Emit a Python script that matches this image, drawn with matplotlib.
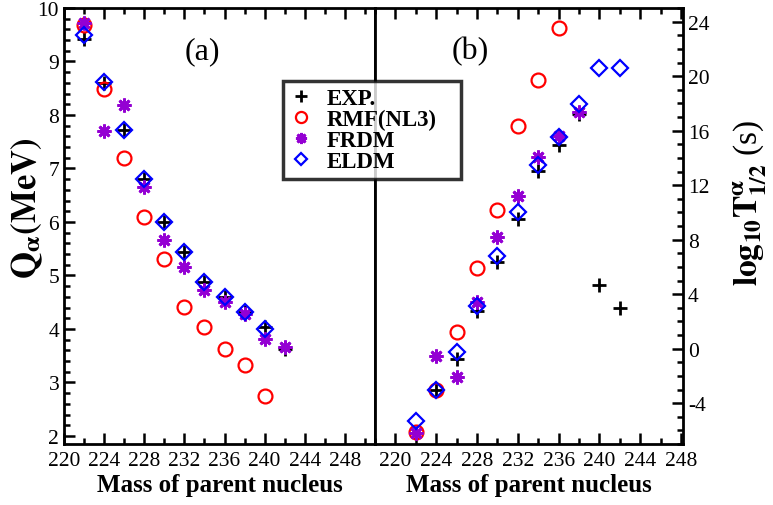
import matplotlib
matplotlib.use("Agg")
import matplotlib.pyplot as plt
from matplotlib.ticker import MultipleLocator
from matplotlib.lines import Line2D

plt.rcParams['font.family'] = ['Liberation Serif', 'DejaVu Serif']
plt.rcParams['mathtext.fontset'] = 'stix'
plt.rcParams['axes.unicode_minus'] = False

# ---- data ----
mass_q = [222, 224, 226, 228, 230, 232, 234, 236, 238, 240, 242]
q_exp = [9.42, 8.60, 7.72, 6.80, 6.00, 5.43, 4.88, 4.59, 4.31, 4.04, 3.62]
mass_q_rmf = [222, 224, 226, 228, 230, 232, 234, 236, 238, 240]
q_rmf = [9.69, 8.48, 7.19, 6.10, 5.31, 4.42, 4.03, 3.63, 3.33, 2.74]
q_frdm = [9.72, 7.70, 8.18, 6.66, 5.67, 5.15, 4.72, 4.50, 4.28, 3.82, 3.66]
mass_q_eldm = [222, 224, 226, 228, 230, 232, 234, 236, 238, 240]
q_eldm = [9.49, 8.62, 7.72, 6.80, 6.00, 5.43, 4.88, 4.59, 4.31, 4.00]

mass_t_exp = [222, 224, 226, 228, 230, 232, 234, 236, 238, 240, 242]
t_exp = [-6.2, -3.04, -0.76, 2.78, 6.33, 9.51, 13.06, 14.97, 17.22, 4.67, 2.96]
mass_t_rmf = [222, 224, 226, 228, 230, 232, 234, 236]
t_rmf = [-6.14, -3.04, 1.24, 5.89, 10.17, 16.32, 19.69, 23.53]
mass_t_frdm = [222, 224, 226, 228, 230, 232, 234, 236, 238]
t_frdm = [-6.2, -0.52, -2.06, 3.40, 8.17, 11.18, 14.09, 15.63, 17.34]
mass_t_eldm = [222, 224, 226, 228, 230, 232, 234, 236, 238, 240, 242]
t_eldm = [-5.29, -3.04, -0.27, 3.11, 6.82, 10.0, 13.50, 15.56, 17.95, 20.57, 20.57]

xticks = [220, 224, 228, 232, 236, 240, 244, 248]
labels = ['EXP.', 'RMF(NL3)', 'FRDM', 'ELDM']

# ---- styles ----
purple = '#9400D3'
st_exp = dict(marker='+', color='black', ms=10, mew=2, ls='none')
st_rmf = dict(marker='o', mfc='none', mec='red', ms=10, mew=1.6, ls='none')
st_frdm = dict(marker=(8, 2, 0), color=purple, mec=purple, ms=10, mew=2, ls='none')
st_eldm = dict(marker='D', mfc='none', mec='blue', ms=8, mew=1.6, ls='none')

fig = plt.figure(figsize=(7.73, 5.06), dpi=100)
axL = fig.add_axes([64/773, 1-445/506, 311/773, 436/506])
axR = fig.add_axes([375/773, 1-445/506, 308/773, 436/506])

axL.plot(mass_q, q_exp, **st_exp)
axL.plot(mass_q_rmf, q_rmf, **st_rmf)
axL.plot(mass_q, q_frdm, **st_frdm)
axL.plot(mass_q_eldm, q_eldm, **st_eldm)

axR.plot(mass_t_exp, t_exp, **st_exp)
axR.plot(mass_t_rmf, t_rmf, **st_rmf)
axR.plot(mass_t_frdm, t_frdm, **st_frdm)
axR.plot(mass_t_eldm, t_eldm, **st_eldm)

axL.set_xlim(220, 251)
axL.set_ylim(1.85, 10)
axR.set_xlim(218, 248.2)
axR.set_ylim(-7, 25)

for ax in (axL, axR):
    ax.set_xticks(xticks)
    ax.xaxis.set_minor_locator(MultipleLocator(2))
    for s in ax.spines.values():
        s.set_linewidth(2)
    ax.tick_params(which='both', direction='in', width=1.8, labelsize=15.5)
    ax.tick_params(which='major', length=8)
    ax.tick_params(which='minor', length=4)
    ax.tick_params(axis='x', pad=5)
    ax.set_xlabel('Mass of parent nucleus', fontsize=18, fontweight='bold', labelpad=2)

axL.yaxis.set_major_locator(MultipleLocator(1))
axL.yaxis.set_minor_locator(MultipleLocator(0.2))
axL.tick_params(which='both', top=True, right=False, left=True, bottom=True)

axR.yaxis.set_major_locator(MultipleLocator(4))
axR.yaxis.set_minor_locator(MultipleLocator(1))
axR.yaxis.tick_right()
axR.tick_params(which='both', top=True, right=True, left=False, bottom=True,
                labelright=True, labelleft=False)

fig.text(27/773, 1-208/506, r'$\mathbf{Q}_{\mathbf{\alpha}}\mathbf{(MeV)}$',
         fontsize=25, rotation=90, ha='center', va='center')
fig.text(750/773, 1-203/506,
         r'$\mathbf{log_{10}T}^{\mathbf{\alpha}}_{\mathbf{1/2}}$ (s)',
         fontsize=24, rotation=90, ha='center', va='center')

fig.text(202/773, 1-52/506, '(a)', fontsize=23, ha='center', va='center')
fig.text(470/773, 1-52/506, '(b)', fontsize=23, ha='center', va='center')

handles = [Line2D([], [], **{**st_exp, 'ms': 8}),
           Line2D([], [], **{**st_rmf, 'ms': 8}),
           Line2D([], [], **{**st_frdm, 'ms': 8}),
           Line2D([], [], **{**st_eldm, 'ms': 6.5})]
leg = fig.legend(handles, labels, loc='upper left',
                 bbox_to_anchor=(283/773, 1-192/506, 178/773, 110/506),
                 mode='expand', frameon=True, fancybox=False,
                 prop={'weight': 'bold', 'size': 16.5}, handlelength=1.0,
                 handletextpad=0.6, labelspacing=0.0, borderpad=0.3,
                 borderaxespad=0)
leg.get_frame().set_edgecolor('black')
leg.get_frame().set_linewidth(2.5)

fig.savefig('out.png', dpi=100)
